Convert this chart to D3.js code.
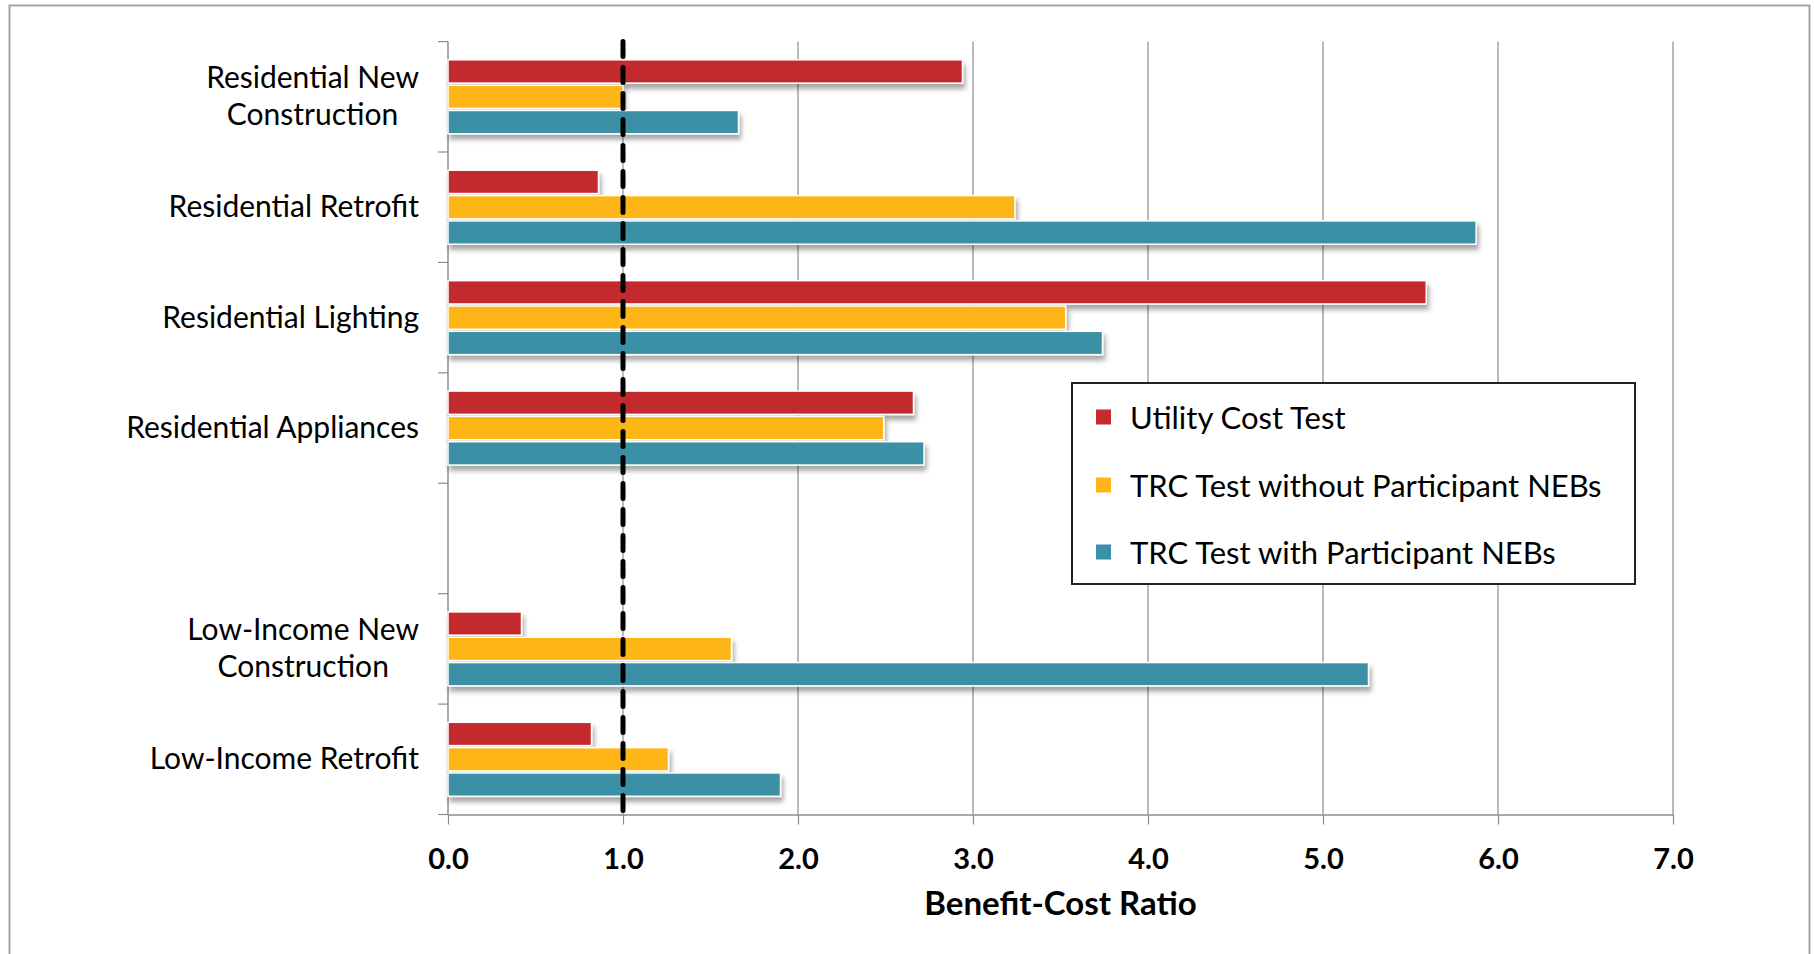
<!DOCTYPE html>
<html>
<head>
<meta charset="utf-8">
<script src="https://cdn.jsdelivr.net/npm/d3@7"></script>
<style>
  html, body { margin: 0; padding: 0; background: #fff; }
  svg { display: block; }
  text { font-family: Lato, "Open Sans", "DejaVu Sans", sans-serif; fill: #000; }
</style>
</head>
<body>
<svg id="chart" width="1814" height="954"></svg>
<script>
// Program categories (the empty entry leaves a blank gap between groups)
const categories = [
  "Residential New\nConstruction",
  "Residential Retrofit",
  "Residential Lighting",
  "Residential Appliances",
  "",
  "Low-Income New\nConstruction",
  "Low-Income Retrofit"
];
const seriesNames = [
  "Utility Cost Test",
  "TRC Test without Participant NEBs",
  "TRC Test with Participant NEBs"
];
const seriesColors = ["#C32B2F", "#FDB614", "#3A90A6"];

// Benefit-cost ratios per category, one array per test
const utilityCostTest = [2.94, 0.86, 5.59, 2.66, null, 0.42, 0.82];
const trcWithoutNEBs  = [1.00, 3.24, 3.53, 2.49, null, 1.62, 1.26];
const trcWithNEBs     = [1.66, 5.875, 3.74, 2.72, null, 5.26, 1.90];
const seriesValues = [utilityCostTest, trcWithoutNEBs, trcWithNEBs];

const xTickValues = [0, 1, 2, 3, 4, 5, 6, 7];
const breakEvenRatio = 1.0;
const xAxisTitle = "Benefit-Cost Ratio";

const svg = d3.select("#chart");
const plot = { left: 448, right: 1673, top: 41.6, bottom: 814.5 };

// Outer frame
svg.append("rect")
  .attr("x", 9.5).attr("y", 5.5)
  .attr("width", 1800).attr("height", 1000)
  .attr("fill", "#fff").attr("stroke", "#a3a3a3").attr("stroke-width", 2);

// Soft shadow for bars
const defs = svg.append("defs");
const f = defs.append("filter").attr("id", "barShadow")
  .attr("x", "-5%").attr("y", "-30%").attr("width", "115%").attr("height", "190%");
f.append("feDropShadow")
  .attr("dx", 2).attr("dy", 5).attr("stdDeviation", 2.5)
  .attr("flood-color", "#000").attr("flood-opacity", 0.35);

const x = d3.scaleLinear().domain([0, 7]).range([plot.left, plot.right]);
const y = d3.scaleBand().domain(categories.map((c, i) => i)).range([plot.top, plot.bottom]).padding(0);
const bw = y.bandwidth();
const sub = d3.scaleBand().domain(d3.range(seriesNames.length))
  .range([bw * 0.165, bw * 0.835]).paddingInner(0.08).paddingOuter(0);

// Vertical gridlines
svg.append("g").selectAll("line")
  .data(xTickValues.filter(v => v > 0))
  .join("line")
  .attr("x1", d => x(d)).attr("x2", d => x(d))
  .attr("y1", plot.top).attr("y2", plot.bottom)
  .attr("stroke", "#8c8c8c").attr("stroke-width", 1.2);

// Bottom axis
const xAxis = svg.append("g")
  .attr("transform", `translate(0,${plot.bottom})`)
  .call(d3.axisBottom(x).tickValues(xTickValues).tickFormat(d3.format(".1f"))
    .tickSizeInner(10).tickSizeOuter(0).tickPadding(24));
xAxis.select(".domain").attr("stroke", "#8c8c8c").attr("stroke-width", 1.5);
xAxis.selectAll(".tick line").attr("stroke", "#8c8c8c").attr("stroke-width", 1.2);
xAxis.selectAll(".tick text")
  .attr("font-size", 29).attr("font-weight", 700)
  .style("font-family", "Lato, 'Open Sans', sans-serif").attr("fill", "#000");

// Left axis line and category boundary ticks
const yAxisG = svg.append("g");
yAxisG.append("line")
  .attr("x1", plot.left).attr("x2", plot.left)
  .attr("y1", plot.top).attr("y2", plot.bottom)
  .attr("stroke", "#8c8c8c").attr("stroke-width", 1.5);
const boundaries = y.domain().map(i => y(i)).concat([plot.bottom]);
yAxisG.selectAll("line.tick")
  .data(boundaries).join("line").attr("class", "tick")
  .attr("x1", plot.left - 10).attr("x2", plot.left)
  .attr("y1", d => d).attr("y2", d => d)
  .attr("stroke", "#8c8c8c").attr("stroke-width", 1.2);

// Category labels (multi-line labels centred on each other, right-aligned as a block)
const labelRight = 419;
const lineH = 37;
categories.forEach((cat, i) => {
  if (!cat) return;
  const lines = cat.split("\n");
  const cy = y(i) + bw / 2 - 2;
  const t = svg.append("text").attr("font-size", 30).attr("dominant-baseline", "central");
  const spans = lines.map((ln, k) => t.append("tspan")
    .attr("y", cy + (k - (lines.length - 1) / 2) * lineH).text(ln));
  const widths = spans.map(s => s.node().getComputedTextLength());
  const maxW = d3.max(widths);
  const cx = labelRight - maxW / 2;
  spans.forEach(s => s.attr("x", cx).attr("text-anchor", "middle"));
});

// Bars
const barsG = svg.append("g");
categories.forEach((cat, i) => {
  seriesValues.forEach((vals, s) => {
    const v = vals[i];
    if (v == null) return;
    barsG.append("rect")
      .attr("x", x(0))
      .attr("y", y(i) + sub(s))
      .attr("width", x(v) - x(0))
      .attr("height", sub.bandwidth())
      .attr("fill", seriesColors[s])
      .attr("stroke", "#fff").attr("stroke-width", 1.5)
      .attr("filter", "url(#barShadow)");
  });
});

// Break-even reference line
svg.append("line")
  .attr("x1", x(breakEvenRatio)).attr("x2", x(breakEvenRatio))
  .attr("y1", plot.top).attr("y2", plot.bottom)
  .attr("stroke", "#000").attr("stroke-width", 5)
  .attr("stroke-dasharray", "15,11").attr("stroke-linecap", "round");

// Axis title
svg.append("text")
  .attr("x", (plot.left + plot.right) / 2).attr("y", 902)
  .attr("text-anchor", "middle").attr("dominant-baseline", "central")
  .attr("font-size", 33).attr("font-weight", 700)
  .text(xAxisTitle);

// Legend
const lg = svg.append("g");
lg.append("rect")
  .attr("x", 1072).attr("y", 383).attr("width", 563).attr("height", 201)
  .attr("fill", "#fff").attr("stroke", "#222").attr("stroke-width", 2);
const rowY = [417, 485, 552];
seriesNames.forEach((name, s) => {
  lg.append("rect")
    .attr("x", 1096).attr("y", rowY[s] - 7.5).attr("width", 15).attr("height", 15)
    .attr("fill", seriesColors[s]);
  lg.append("text")
    .attr("x", 1130).attr("y", rowY[s])
    .attr("dominant-baseline", "central").attr("font-size", 31)
    .text(name);
});
</script>
</body>
</html>
